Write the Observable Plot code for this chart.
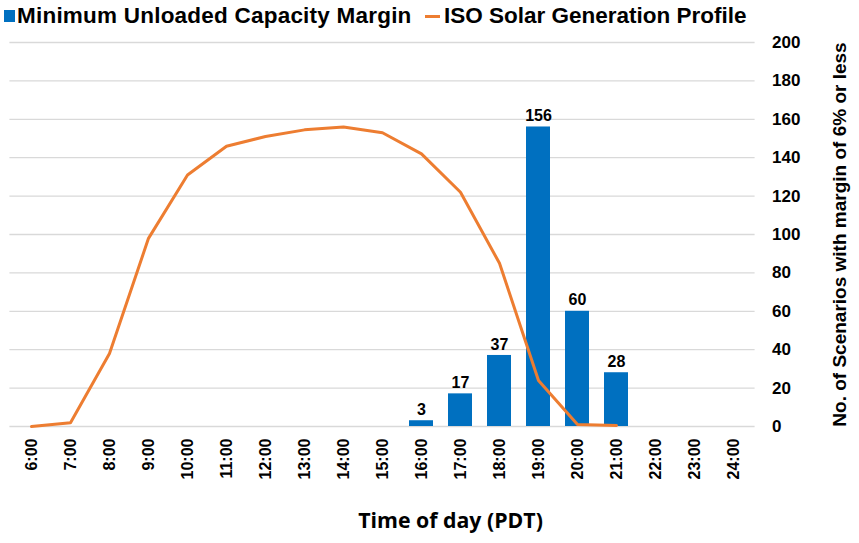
<!DOCTYPE html>
<html>
<head>
<meta charset="utf-8">
<script src="https://cdn.jsdelivr.net/npm/d3@7"></script>
<script src="https://cdn.jsdelivr.net/npm/@observablehq/plot@0.6"></script>
<style>
  html, body { margin: 0; padding: 0; background: #fff; }
  #legend { position: relative; height: 34px; width: 859px; font-family: "Liberation Sans", Arial, sans-serif; font-weight: bold; font-size: 22.5px; color: #000; }
  #legend .item { position: absolute; top: 3px; display: flex; align-items: center; white-space: nowrap; }
  #legend .sw-bar { width: 11px; height: 12px; background: #0070C0; margin-right: 2px; }
  #legend .sw-line { width: 15px; height: 3px; background: #ED7D31; margin-right: 4px; }
</style>
</head>
<body>
<div id="legend"></div>
<div id="chart"></div>
<script>
const hours = ["6:00","7:00","8:00","9:00","10:00","11:00","12:00","13:00","14:00","15:00","16:00","17:00","18:00","19:00","20:00","21:00","22:00","23:00","24:00"];
const barHours = ["16:00","17:00","18:00","19:00","20:00","21:00"];
const barValues = [3, 17, 37, 156, 60, 28];
const solarHours = ["6:00","7:00","8:00","9:00","10:00","11:00","12:00","13:00","14:00","15:00","16:00","17:00","18:00","19:00","20:00","21:00"];
const solarValues = [0, 2, 38, 98, 131, 146, 151, 154.5, 156, 153, 142, 122, 85, 24, 1, 0.5];
const yTicks = [0, 20, 40, 60, 80, 100, 120, 140, 160, 180, 200];
const seriesNames = ["Minimum Unloaded Capacity Margin", "ISO Solar Generation Profile"];
const yTitle = "No. of Scenarios with margin of 6% or less";
const xTitle = "Time of day (PDT)";

const bars = barHours.map((h, i) => ({hour: h, value: barValues[i]}));
const solar = solarHours.map((h, i) => ({hour: h, value: solarValues[i]}));

// legend
const legend = document.getElementById("legend");
legend.innerHTML = `
  <div class="item" style="left:4px;letter-spacing:0.22px"><span class="sw-bar"></span>${seriesNames[0]}</div>
  <div class="item" style="left:425px"><span class="sw-line"></span>${seriesNames[1]}</div>`;

const font = "'Liberation Sans', Arial, sans-serif";

const chart = Plot.plot({
  width: 859,
  height: 509,
  marginTop: 8,
  marginBottom: 117,
  marginLeft: 9.4,
  marginRight: 104.4,
  style: {fontFamily: font, fontWeight: "bold", color: "#000", background: "#fff"},
  x: {type: "band", domain: hours, paddingInner: 0.39, paddingOuter: 0.195, align: 0.5},
  y: {domain: [0, 200]},
  marks: [
    Plot.gridY(yTicks, {stroke: "#d9d9d9", strokeOpacity: 1, strokeWidth: 1.3}),
    Plot.axisY({anchor: "right", ticks: yTicks, tickSize: 0, tickPadding: 17, fontSize: 17, fontWeight: "bold", label: null}),
    Plot.axisX({tickRotate: -90, tickSize: 0, tickPadding: 12, fontSize: 16, fontWeight: "bold", label: null}),
    Plot.barY(bars, {x: "hour", y: "value", fill: "#0070C0"}),
    Plot.line(solar, {x: "hour", y: "value", stroke: "#ED7D31", strokeWidth: 3, strokeLinejoin: "round"}),
    Plot.text(bars, {x: "hour", y: "value", text: d => String(d.value), dy: -11, fontSize: 16, fontWeight: "bold", fill: "#000"}),
    Plot.text([yTitle], {frameAnchor: "right", textAnchor: "middle", text: d => d, rotate: -90, dx: 85, fontSize: 19, fontWeight: "bold", fill: "#000"}),
    Plot.text([xTitle], {frameAnchor: "bottom", text: d => d, dx: 68, dy: 101, fontSize: 21.3, fontWeight: "bold", fontFamily: "'Open Sans', sans-serif", fill: "#000"})
  ]
});
document.getElementById("chart").appendChild(chart);
</script>
</body>
</html>
